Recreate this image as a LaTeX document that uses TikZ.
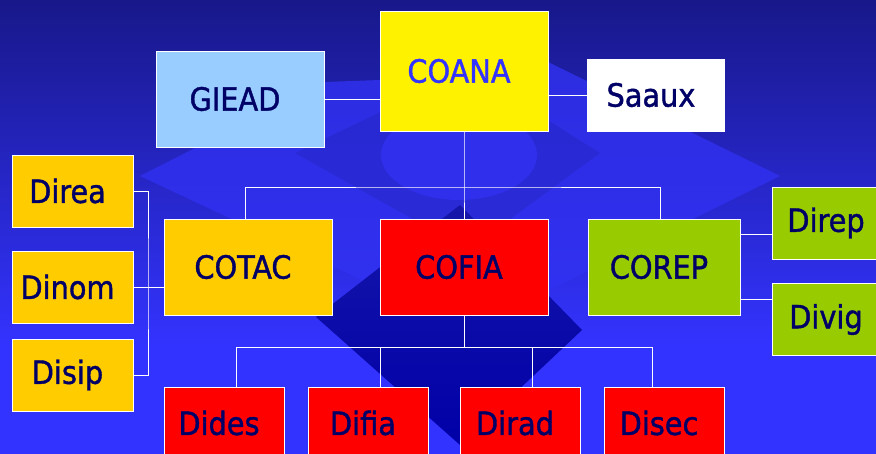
\documentclass[tikz,border=0pt]{standalone}
\usepackage{fontspec}
\newfontfamily\orgfont[FakeBold=1.2]{DejaVu Sans Condensed}
\usetikzlibrary{calc}
\definecolor{bgtop}{RGB}{24,24,138}
\definecolor{bgbot}{RGB}{51,51,255}
\definecolor{logolight}{RGB}{49,49,242}
\definecolor{logomid}{RGB}{38,38,196}
\definecolor{logodark}{RGB}{22,22,170}
\definecolor{logodeep}{RGB}{0,0,168}
\definecolor{skyblue}{RGB}{153,204,255}
\definecolor{amber}{RGB}{255,204,0}
\definecolor{lime}{RGB}{153,204,0}
\definecolor{navytext}{RGB}{0,0,102}
\definecolor{coanatext}{RGB}{51,51,255}
\begin{document}
\begin{tikzpicture}[x=1pt, y=-1pt,
    plainunit/.style={draw=white, line width=0.8pt, text=navytext, inner sep=0pt,
      font=\orgfont\fontsize{32}{36}\selectfont},
    unit/.style={plainunit, execute at end node={\hspace{10pt}}},
    bigbox/.style={unit, minimum width=168pt, minimum height=96pt},
    smallbox/.style={unit, minimum width=121pt, minimum height=72pt},
    sidebox/.style={plainunit, fill=lime, minimum width=108pt, minimum height=72pt},
    wire/.style={draw=white, line width=0.8pt}]
    \useasboundingbox (0,0) rectangle (876,454);
    \clip (0,0) rectangle (876,454);
    % background and faded logo
    \shade[top color=bgtop, bottom color=bgbot] (0,0) rectangle (876,345);
    \fill[bgbot] (0,344) rectangle (876,454);
    \fill[logolight, opacity=0.8] (140,176) -- (325,82) -- (380,80) -- (548,62) -- (780,176) -- (468,330) -- cycle;
    \fill[logomid, opacity=0.5] (295,153) -- (468,70) -- (600,153) -- (468,250) -- cycle;
    \fill[logolight, opacity=0.8] (459,155) ellipse (78 and 45);
    \shade[top color=logodark, bottom color=logodeep] (460,205) -- (582,330) -- (460,445) -- (316,317) -- cycle;
    % top level
    \node[unit, fill=yellow, text=coanatext, minimum width=168pt, minimum height=120pt] (coana) at (464,71) {COANA};
    \node[bigbox, fill=skyblue] (giead) at (240,99) {GIEAD};
    \node[unit, fill=white, minimum width=137pt, minimum height=72pt] (saaux) at (656,95) {Saaux};
    \node[bigbox, fill=amber] (cotac) at (248,267) {COTAC};
    \node[bigbox, fill=red] (cofia) at (464,267) {COFIA};
    \node[bigbox, fill=lime, minimum width=152pt] (corep) at (664,267) {COREP};
    \node[sidebox] (direp) at (826,223) {Direp};
    \node[sidebox] (divig) at (826,319.5) {Divig};
    \foreach \nm/\y/\txt in {direa/191/Direa, dinom/287/Dinom, disip/375/Disip}
        \node[smallbox, fill=amber] (\nm) at (72.5,\y) {\txt};
    \foreach \nm/\x/\txt in {dides/224/Dides, difia/368/Difia, dirad/520/Dirad, disec/664/Disec}
        \node[smallbox, fill=red, minimum width=120pt] (\nm) at (\x,423) {\txt};
    \coordinate (topbus) at (464,187);
    \coordinate (midbus) at (464,347);
    \coordinate (leftbus) at (148,284);
    \coordinate (reptop) at ($(corep.north east)+(0,16)$);
    \coordinate (repbot) at ($(corep.south east)+(0,-16)$);
    % connectors
    \draw[wire] (giead.east) -- (giead.east -| coana.west);
    \draw[wire] (coana.east |- saaux.west) -- (saaux.west);
    \draw[wire] (coana.south) -- (topbus) -- (cofia.north);
    \draw[wire] ($(cotac.north)+(-3,0)$) |- (topbus) -| ($(corep.north)+(-4,0)$);
    \draw[wire] (cofia.south) -- (midbus);
    \foreach \nm/\dx in {dides/12, difia/12, dirad/12, disec/-12}
        \draw[wire] ($(\nm.north)+(\dx,0)$) |- (midbus);
    \draw[wire] (direa.east) -| (leftbus) |- (disip.east);
    \draw[wire] (dinom.east) -- (dinom.east -| cotac.west);
    \draw[wire] (reptop) -- (reptop -| direp.west);
    \draw[wire] (repbot) -- (repbot -| divig.west);
\end{tikzpicture}
\end{document}
